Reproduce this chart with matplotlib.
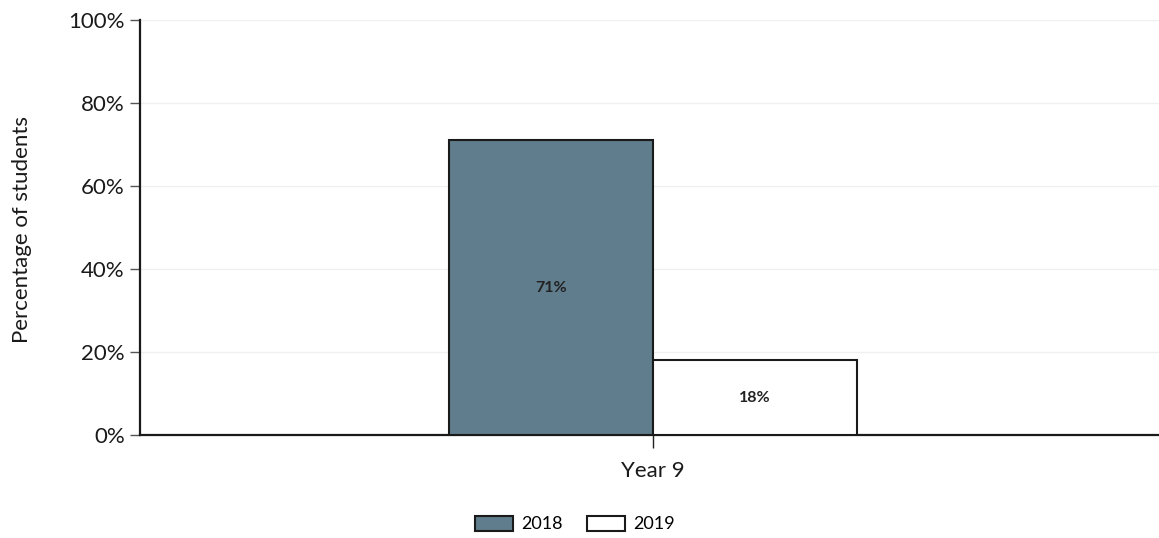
import matplotlib
matplotlib.use("Agg")
import matplotlib.pyplot as plt
from matplotlib.patches import Patch

categories = ["Year 9"]
years = ["2018", "2019"]
values_2018 = [71]
values_2019 = [18]
bar_colors = {"2018": "#5f7d8c", "2019": "#ffffff"}

plt.rcParams['font.family'] = ['Lato', 'DejaVu Sans']

W, H = 1159, 538
fig = plt.figure(figsize=(W / 100, H / 100), dpi=100)
ax = fig.add_axes([140 / W, 1 - 435 / H, 1 - 140 / W, (435 - 20) / H])

width = 0.4
x = range(len(categories))
series = {"2018": values_2018, "2019": values_2019}
for i, yr in enumerate(years):
    offs = (i - 0.5) * width
    bars = ax.bar([xi + offs for xi in x], series[yr], width=width,
                  color=bar_colors[yr], edgecolor='#1a1a1a', linewidth=1.5,
                  label=yr, zorder=3)
    for b, v in zip(bars, series[yr]):
        ax.text(b.get_x() + b.get_width() / 2, v / 2, f"{v}%",
                ha='center', va='center', fontsize=11.5, fontweight='bold',
                color='#222222', zorder=4)

ax.set_ylim(0, 100)
ax.set_xlim(-1.006, 0.992)
ax.set_yticks([0, 20, 40, 60, 80, 100])
ax.set_yticklabels([f"{t}%" for t in [0, 20, 40, 60, 80, 100]])
ax.set_xticks(list(x))
ax.set_xticklabels(categories)
ax.tick_params(axis='y', labelsize=16, length=7, width=1, color='#555555',
               labelcolor='#1a1a1a', pad=4)
ax.tick_params(axis='x', labelsize=16, length=9, width=1, color='#222222',
               labelcolor='#1a1a1a', pad=10)
ax.yaxis.grid(True, color='#f0f0f0', linewidth=1, zorder=0)
ax.set_axisbelow(True)

for s in ['top', 'right']:
    ax.spines[s].set_visible(False)
for s in ['left', 'bottom']:
    ax.spines[s].set_linewidth(1.6)
    ax.spines[s].set_color('#1a1a1a')

fig.text(22 / W, 1 - 230 / H, "Percentage of students", rotation=90,
         ha='center', va='center', fontsize=16, color='#1a1a1a')

handles = [Patch(facecolor=bar_colors[y], edgecolor='#1a1a1a', linewidth=1.5, label=y)
           for y in years]
fig.legend(handles=handles, loc='center', bbox_to_anchor=(575 / W, 1 - 524 / H),
           ncol=2, frameon=False, fontsize=13, handlelength=2.1, handleheight=0.9,
           columnspacing=1.3, handletextpad=0.5)

fig.savefig("out.png", dpi=100)
